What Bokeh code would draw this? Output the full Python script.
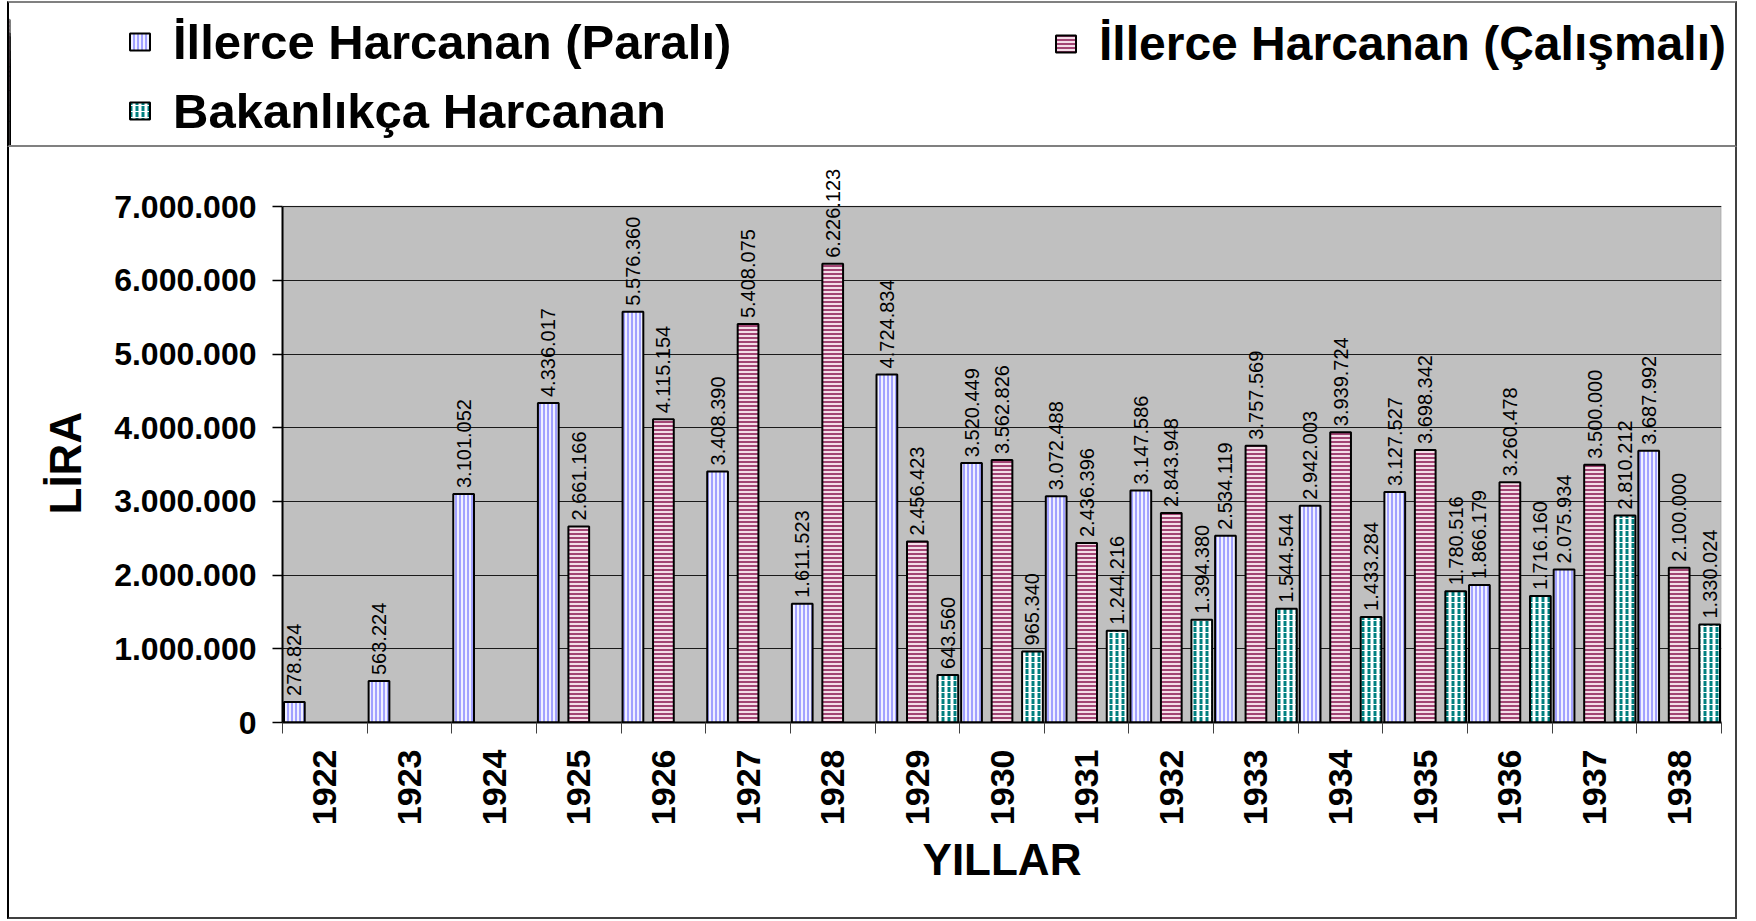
import math
from bokeh.plotting import figure
from bokeh.models import (Range1d, FixedTicker, Legend, LegendItem, ColumnDataSource, LabelSet,
                          BoxAnnotation, Title)
from bokeh.layouts import column
from bokeh.core.properties import value
from bokeh.embed import file_html
from bokeh.resources import INLINE

NaN = float("nan")

years = ["1922", "1923", "1924", "1925", "1926", "1927", "1928", "1929", "1930",
         "1931", "1932", "1933", "1934", "1935", "1936", "1937", "1938"]
paralı = [278824, 563224, 3101052, 4336017, 5576360, 3408390, 1611523, 4724834, 3520449,
          3072488, 3147586, 2534119, 2942003, 3127527, 1866179, 2075934, 3687992]
calismali = [NaN, NaN, NaN, 2661166, 4115154, 5408075, 6226123, 2456423, 3562826,
             2436396, 2843948, 3757569, 3939724, 3698342, 3260478, 3500000, 2100000]
bakanlik = [NaN, NaN, NaN, NaN, NaN, NaN, NaN, 643560, 965340,
            1244216, 1394380, 1544544, 1433284, 1780516, 1716160, 2810212, 1330024]

series_names = ["İllerce Harcanan (Paralı)", "İllerce Harcanan (Çalışmalı)", "Bakanlıkça Harcanan"]
y_ticks = [0, 1000000, 2000000, 3000000, 4000000, 5000000, 6000000, 7000000]
y_tick_labels = ["0", "1.000.000", "2.000.000", "3.000.000", "4.000.000",
                 "5.000.000", "6.000.000", "7.000.000"]
Y_AXIS_MAX = 7000000
Y_VIEW_MAX = 7750000   # room above the plot area for the tallest value label

FONT = "Liberation Sans"

styles = [
    dict(fill_color="#F0F0FF", hatch_pattern="|", hatch_color="#8080FF", hatch_scale=4, hatch_weight=1.4),
    dict(fill_color="#F4DDE8", hatch_pattern="-", hatch_color="#993366", hatch_scale=4, hatch_weight=1.8),
    dict(fill_color="#FFFFFF", hatch_pattern=":", hatch_color="#008080", hatch_scale=6, hatch_weight=3),
]
offsets = [-0.36, 0.0, 0.36]
BAR_W = 0.245

W = 1726          # content width (2px CSS border on each side)
H_LEG = 142       # legend box content height
H_MAIN = 770      # chart content height

# ---------------- main chart ----------------
p = figure(width=W, height=H_MAIN, output_backend="svg", toolbar_location=None,
           x_range=Range1d(-0.5, len(years) - 0.5), y_range=Range1d(0, Y_VIEW_MAX),
           min_border_left=273, min_border_right=18, min_border_top=4, min_border_bottom=197)
p.frame_align = False
p.background_fill_color = "white"
p.border_fill_color = "white"
p.outline_line_color = None
p.styles = {"box-sizing": "content-box",
            "border-left": "2px solid black",
            "border-right": "2px solid #404040",
            "border-bottom": "2px solid #404040"}

# grey plot area (0 .. 7.000.000)
p.add_layout(BoxAnnotation(bottom=0, top=Y_AXIS_MAX, fill_color="#C0C0C0", fill_alpha=1,
                           line_color="#808080", line_width=2, level="image"))

sources = []
all_series = [paralı, calismali, bakanlik]
for k, vals in enumerate(all_series):
    xs = [i + offsets[k] for i in range(len(years))]
    src = ColumnDataSource(dict(x=xs, top=vals))
    sources.append(src)
    p.vbar(x="x", top="top", bottom=0, width=BAR_W, source=src,
           line_color="black", line_width=2, **styles[k])
    lx = [xs[i] for i in range(len(years)) if not math.isnan(vals[i])]
    ly = [vals[i] for i in range(len(years)) if not math.isnan(vals[i])]
    lt = [f"{int(v):,}".replace(",", ".") for v in ly]
    lsrc = ColumnDataSource(dict(x=lx, y=ly, t=lt))
    p.add_layout(LabelSet(x="x", y="y", text="t", source=lsrc, angle=math.pi / 2,
                          text_align="left", text_baseline="middle", y_offset=6,
                          text_font=value(FONT), text_font_size=value("20px"),
                          text_color=value("black")))

p.xgrid.visible = False
p.ygrid.grid_line_color = "#1a1a1a"
p.ygrid.grid_line_width = 1
p.ygrid.ticker = FixedTicker(ticks=y_ticks)

xa = p.xaxis[0]
xa.ticker = FixedTicker(ticks=list(range(len(years))),
                        minor_ticks=[i - 0.5 for i in range(len(years) + 1)])
xa.major_label_overrides = {i: y for i, y in enumerate(years)}
xa.major_label_orientation = math.pi / 2
xa.major_tick_line_color = None
xa.major_tick_out = 0
xa.major_tick_in = 0
xa.minor_tick_out = 11
xa.minor_tick_in = 0
xa.minor_tick_line_color = "#404040"
xa.minor_tick_line_width = 1
xa.axis_line_color = "black"
xa.axis_line_width = 2
xa.major_label_standoff = 16
xa.major_label_text_font = FONT
xa.major_label_text_font_style = "bold"
xa.major_label_text_font_size = "34px"
xa.major_label_text_color = "black"
xa.axis_label = "YILLAR"
xa.axis_label_text_font = FONT
xa.axis_label_text_font_style = "bold"
xa.axis_label_text_font_size = "44px"
xa.axis_label_standoff = 7
xa.axis_label_text_color = "black"

ya = p.yaxis[0]
ya.ticker = FixedTicker(ticks=y_ticks)
ya.bounds = (0, Y_AXIS_MAX)
ya.major_label_overrides = {t: l for t, l in zip(y_ticks, y_tick_labels)}
ya.minor_tick_line_color = None
ya.major_tick_out = 10
ya.major_tick_in = 0
ya.major_tick_line_color = "black"
ya.major_tick_line_width = 1.5
ya.axis_line_color = "black"
ya.axis_line_width = 2
ya.major_label_standoff = 16
ya.major_label_text_font = FONT
ya.major_label_text_font_style = "bold"
ya.major_label_text_font_size = "32px"
ya.major_label_text_color = "black"

# y-axis title, placed along the grey plot area (measured from the frame bottom)
p.add_layout(Title(text="LİRA", align="left", offset=208, standoff=43,
                   text_font=FONT, text_font_style="bold", text_font_size="44px",
                   text_color="black"), "left")

# ---------------- legend box ----------------
lf = figure(width=W, height=H_LEG, output_backend="svg", toolbar_location=None,
            x_axis_location=None, y_axis_location=None, min_border=0,
            x_range=Range1d(len(years), len(years) + 1), y_range=Range1d(0, Y_AXIS_MAX))
lf.frame_align = False
lf.xgrid.visible = False
lf.ygrid.visible = False
lf.outline_line_color = None
lf.background_fill_color = "white"
lf.border_fill_color = "white"
lf.styles = {"box-sizing": "content-box",
             "border-left": "2px solid black",
             "border-top": "2px solid #808080",
             "border-right": "2px solid #404040",
             "border-bottom": "2px solid #808080"}

# legend proxies: same series and styles; this box's x range lies beyond the data
leg_r = []
for k in range(3):
    r = lf.vbar(x="x", top="top", bottom=0, width=BAR_W, source=sources[k],
                line_color="black", line_width=2, **styles[k])
    leg_r.append(r)


def make_legend(idx, loc, size):
    lg = Legend(items=[LegendItem(label=series_names[i], renderers=[leg_r[i]]) for i in idx],
                location=loc, orientation="vertical", padding=0, margin=0,
                border_line_alpha=0, background_fill_alpha=0,
                glyph_width=25, glyph_height=21, label_standoff=21, spacing=13,
                label_text_font=FONT, label_text_font_style="bold",
                label_text_font_size=size, label_text_color="black")
    lf.add_layout(lg)


make_legend([0, 2], (118, 10.5), "49px")
make_legend([1], (1044, 78.5), "48px")

layout = column(lf, p, spacing=0, margin=(1, 0, 0, 7))

open("out.html", "w").write(file_html(layout, INLINE))
